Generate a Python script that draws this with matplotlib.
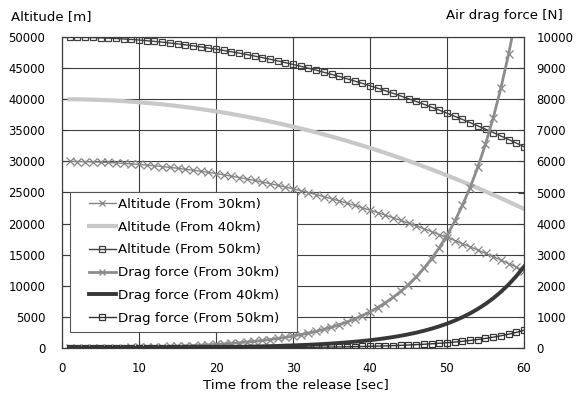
import matplotlib
matplotlib.use("Agg")
import matplotlib.pyplot as plt
from matplotlib.patches import Rectangle

plt.rcParams['font.family'] = ['DejaVu Sans']

time_s = list(range(1, 61))

alt_30 = [29995, 29980, 29956, 29922, 29877, 29824, 29760, 29686, 29603, 29510,
          29407, 29294, 29172, 29040, 28897, 28746, 28584, 28412, 28231, 28040,
          27839, 27628, 27408, 27178, 26937, 26688, 26428, 26158, 25879, 25590,
          25291, 24982, 24664, 24336, 23997, 23650, 23292, 22924, 22547, 22160,
          21763, 21356, 20940, 20514, 20077, 19632, 19176, 18710, 18235, 17760,
          17270, 16770, 16260, 15745, 15215, 14680, 14135, 13580, 13015, 12440]

alt_40 = [39995, 39980, 39956, 39922, 39877, 39824, 39760, 39686, 39603, 39510,
          39407, 39294, 39172, 39040, 38897, 38746, 38584, 38412, 38231, 38040,
          37839, 37628, 37408, 37178, 36937, 36688, 36428, 36158, 35879, 35590,
          35291, 34982, 34664, 34336, 33997, 33650, 33292, 32924, 32547, 32160,
          31763, 31356, 30940, 30514, 30077, 29632, 29176, 28710, 28235, 27750,
          27255, 26750, 26236, 25712, 25177, 24634, 24080, 23516, 22943, 22360]

alt_50 = [49995, 49980, 49956, 49922, 49877, 49824, 49760, 49686, 49603, 49510,
          49407, 49294, 49172, 49040, 48897, 48746, 48584, 48412, 48231, 48040,
          47839, 47628, 47408, 47178, 46937, 46688, 46428, 46158, 45879, 45590,
          45291, 44982, 44664, 44336, 43997, 43650, 43292, 42924, 42547, 42160,
          41763, 41356, 40940, 40514, 40077, 39632, 39176, 38710, 38235, 37750,
          37255, 36750, 36236, 35712, 35177, 34634, 34080, 33516, 32943, 32360]

drag_30 = [0.21, 0.86, 1.9, 3.5, 5.4, 7.9, 10.9, 14.4, 18.4, 23.0,
           28.4, 34.4, 41.1, 48.7, 57.1, 66.6, 77.1, 88.8, 101.7, 116.1,
           132.1, 150.0, 169.6, 191.4, 215.7, 242.6, 272.4, 305.6, 342.4, 383.3,
           428.9, 479.7, 536.0, 599.0, 669.1, 747.4, 835.0, 932.8, 1042.2, 1164.5,
           1301.9, 1455.9, 1628.6, 1822.5, 2040.9, 2286.3, 2563.3, 2875.3, 3227.3, 3624.4,
           4074.5, 4584.0, 5160.3, 5813.7, 6555.5, 7398.1, 8357.6, 9450.2, 10694.8, 12116.0]

drag_40 = [0.05, 0.19, 0.41, 0.76, 1.17, 1.71, 2.35, 3.11, 3.97, 4.97,
           6.13, 7.43, 8.88, 10.5, 12.3, 14.4, 16.7, 19.2, 22.0, 25.1,
           28.5, 32.4, 36.6, 41.3, 46.6, 52.4, 58.8, 66.0, 74.0, 82.8,
           92.6, 103.6, 115.8, 129.4, 144.5, 161.4, 180.4, 201.5, 225.1, 251.5,
           281.2, 314.5, 351.8, 393.7, 440.8, 493.8, 553.7, 621.1, 697.1, 782.9,
           880.1, 990.1, 1114.6, 1255.8, 1416.0, 1598.0, 1805.2, 2041.2, 2310.1, 2617.1]

drag_50 = [0.01, 0.04, 0.09, 0.16, 0.25, 0.37, 0.51, 0.68, 0.86, 1.08,
           1.33, 1.62, 1.93, 2.29, 2.68, 3.13, 3.62, 4.17, 4.78, 5.46,
           6.21, 7.05, 7.97, 9.00, 10.1, 11.4, 12.8, 14.4, 16.1, 18.0,
           20.2, 22.5, 25.2, 28.2, 31.4, 35.1, 39.2, 43.8, 49.0, 54.7,
           61.2, 68.4, 76.5, 85.7, 95.9, 107.5, 120.5, 135.1, 151.7, 170.3,
           191.5, 215.4, 242.5, 273.2, 308.1, 347.7, 392.8, 444.2, 502.7, 569.5]

labels = ["Altitude (From 30km)", "Altitude (From 40km)", "Altitude (From 50km)",
          "Drag force (From 30km)", "Drag force (From 40km)", "Drag force (From 50km)"]

x_ticks = [0, 10, 20, 30, 40, 50, 60]
alt_ticks = list(range(0, 50001, 5000))
drag_ticks = list(range(0, 10001, 1000))

W, H = 576, 400
fig = plt.figure(figsize=(5.76, 4.0), dpi=100)
L, R, T, B = 62, 524, 37, 348
ax = fig.add_axes([L / W, 1 - B / H, (R - L) / W, (B - T) / H])
ax2 = ax.twinx()

TFS = 8.4   # tick labels
FS = 9.6    # other text
grid_c = '#3c3c3c'

ax.set_xlim(0, 60)
ax.set_ylim(0, 50000)
ax2.set_ylim(0, 10000)
ax.set_xticks(x_ticks)
ax.set_yticks(alt_ticks)
ax2.set_yticks(drag_ticks)
ax.grid(True, color=grid_c, lw=0.8)
ax.set_axisbelow(True)
for a in (ax, ax2):
    for s in a.spines.values():
        s.set_color(grid_c)
        s.set_linewidth(0.8)
ax.tick_params(axis='both', direction='in', length=4, width=0.8, color=grid_c,
               labelsize=TFS, labelcolor='black')
ax.tick_params(axis='y', pad=12)
ax.tick_params(axis='x', pad=10)
ax2.tick_params(axis='y', direction='in', length=4, width=0.8, color=grid_c,
                labelsize=TFS, pad=9)

h1, = ax.plot(time_s, alt_30, color='#858585', lw=1.0, marker='x', ms=5.5, mew=0.9)
h2, = ax.plot(time_s, alt_40, color='#c8c8c8', lw=3.0)
h3, = ax.plot(time_s, alt_50, color='#404040', lw=1.0, marker='s', ms=5.0,
              mfc='none', mec='#404040', mew=0.9)
h4, = ax2.plot(time_s, drag_30, color='#8c8c8c', lw=2.0, marker='x', ms=5.5, mew=1.0)
h5, = ax2.plot(time_s, drag_40, color='#383838', lw=2.8)
h6, = ax2.plot(time_s, drag_50, color='#333333', lw=1.0, marker='s', ms=5.0,
               mfc='none', mec='#333333', mew=0.9)

def ax_frac(px, py):
    return ((px - L) / (R - L), (B - py) / (B - T))

x0, y0 = ax_frac(70, 332)
x1, y1 = ax_frac(297, 192)
ax2.add_patch(Rectangle((x0, y0), x1 - x0, y1 - y0, transform=ax2.transAxes,
                        facecolor='white', edgecolor='#555555', lw=0.8, zorder=4.5))

lx, ly = ax_frac(89, 198)
leg = ax2.legend([h1, h2, h3, h4, h5, h6], labels, loc='upper left',
                 bbox_to_anchor=(lx, ly), frameon=False, fontsize=FS,
                 borderpad=0, borderaxespad=0, handlelength=2.0,
                 handletextpad=0.15, labelspacing=0.73, markerscale=0.75)
leg.set_zorder(6)

fig.text(11 / W, 1 - 17 / H, "Altitude [m]", ha='left', va='center', fontsize=FS)
fig.text(563 / W, 1 - 15 / H, "Air drag force [N]", ha='right', va='center', fontsize=FS)
fig.text(296 / W, 1 - 385 / H, "Time from the release [sec]", ha='center', va='center', fontsize=FS)

fig.savefig("out.png", dpi=100)
